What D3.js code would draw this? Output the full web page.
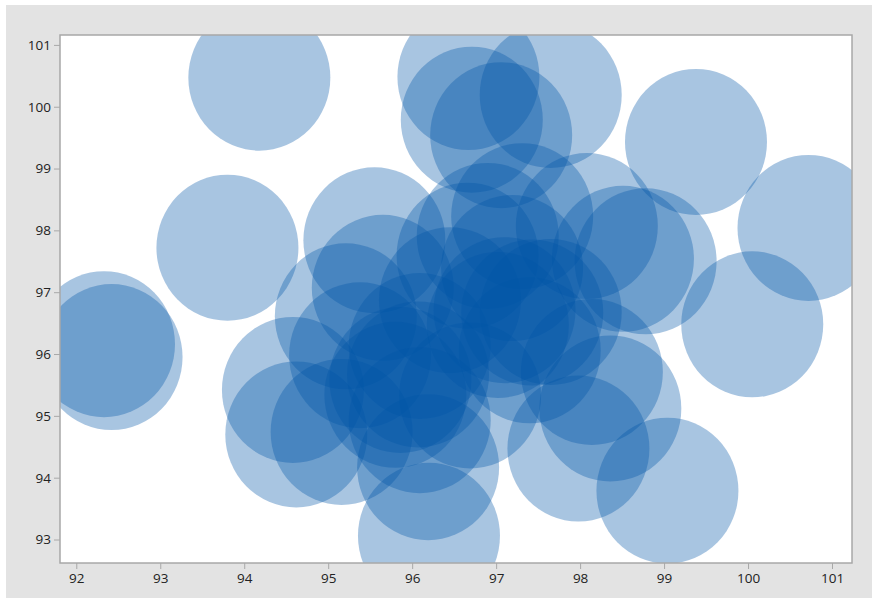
<!DOCTYPE html>
<html>
<head>
<meta charset="utf-8">
<script src="https://cdn.jsdelivr.net/npm/d3@7/dist/d3.min.js"></script>
<style>
  html, body { margin: 0; padding: 0; background: #ffffff; }
  svg { display: block; }
  .tick text { font-family: "Open Sans", "Noto Sans", sans-serif; font-size: 13.5px; fill: #222; }
</style>
</head>
<body>
<svg id="chart" width="872" height="600"></svg>
<script>
// Bubble centres (x, y)
const xValues = [92.33, 92.42, 94.18, 93.80, 99.38, 100.72, 100.05, 99.04, 96.20, 96.67,
                 96.71, 97.06, 97.65, 95.55, 95.65, 95.21, 94.58, 94.62, 95.38, 95.16,
                 96.09, 96.66, 96.90, 97.31, 97.19, 98.08, 98.51, 98.78, 98.36, 98.14,
                 97.98, 97.65, 96.19, 96.69, 97.40, 97.10, 96.45, 95.86, 96.07, 97.43,
                 97.02, 95.80, 96.09];
const yValues = [96.16, 95.95, 100.47, 97.72, 99.43, 98.04, 96.48, 93.79, 93.06, 100.48,
                 99.79, 99.54, 100.19, 97.84, 97.07, 96.61, 95.42, 94.70, 95.98, 94.74,
                 96.13, 97.59, 97.91, 98.23, 97.39, 98.07, 97.54, 97.50, 95.12, 95.71,
                 94.47, 96.68, 94.17, 95.33, 96.06, 96.71, 96.87, 95.58, 95.67, 96.67,
                 96.47, 95.34, 94.93];

const xTicks = [92, 93, 94, 95, 96, 97, 98, 99, 100, 101];
const yTicks = [93, 94, 95, 96, 97, 98, 99, 100, 101];

const svg = d3.select("#chart");
const W = 872, H = 600;
const plot = { left: 60, top: 35, right: 852, bottom: 563 };

// outer panel
svg.append("rect")
  .attr("x", 6).attr("y", 5).attr("width", W - 6).attr("height", 593)
  .attr("fill", "#e3e3e3");

svg.append("rect")
  .attr("x", plot.left).attr("y", plot.top)
  .attr("width", plot.right - plot.left).attr("height", plot.bottom - plot.top)
  .attr("fill", "#ffffff");

const x = d3.scaleLinear().domain([91.806, 101.238]).range([plot.left, plot.right]);
const y = d3.scaleLinear().domain([92.62, 101.16]).range([plot.bottom, plot.top]);

svg.append("defs").append("clipPath").attr("id", "plotClip")
  .append("rect")
  .attr("x", plot.left).attr("y", plot.top)
  .attr("width", plot.right - plot.left).attr("height", plot.bottom - plot.top);

const bubbles = xValues.map((v, i) => ({ x: v, y: yValues[i] }));

svg.append("g").attr("clip-path", "url(#plotClip)")
  .selectAll("ellipse")
  .data(bubbles)
  .join("ellipse")
  .attr("cx", d => x(d.x))
  .attr("cy", d => y(d.y))
  .attr("rx", 71)
  .attr("ry", 73)
  .attr("fill", "#0055a6")
  .attr("fill-opacity", 0.34);

// frame
svg.append("rect")
  .attr("x", plot.left).attr("y", plot.top)
  .attr("width", plot.right - plot.left).attr("height", plot.bottom - plot.top)
  .attr("fill", "none").attr("stroke", "#a8a8a8").attr("stroke-width", 1.5);

const xAxis = svg.append("g")
  .attr("transform", `translate(0,${plot.bottom})`)
  .call(d3.axisBottom(x).tickValues(xTicks).tickFormat(d3.format("d")).tickSize(6).tickPadding(4));
const yAxis = svg.append("g")
  .attr("transform", `translate(${plot.left},0)`)
  .call(d3.axisLeft(y).tickValues(yTicks).tickFormat(d3.format("d")).tickSize(6).tickPadding(3));

[xAxis, yAxis].forEach(g => {
  g.select(".domain").remove();
  g.selectAll(".tick line").attr("stroke", "#a8a8a8");
});
</script>
</body>
</html>
